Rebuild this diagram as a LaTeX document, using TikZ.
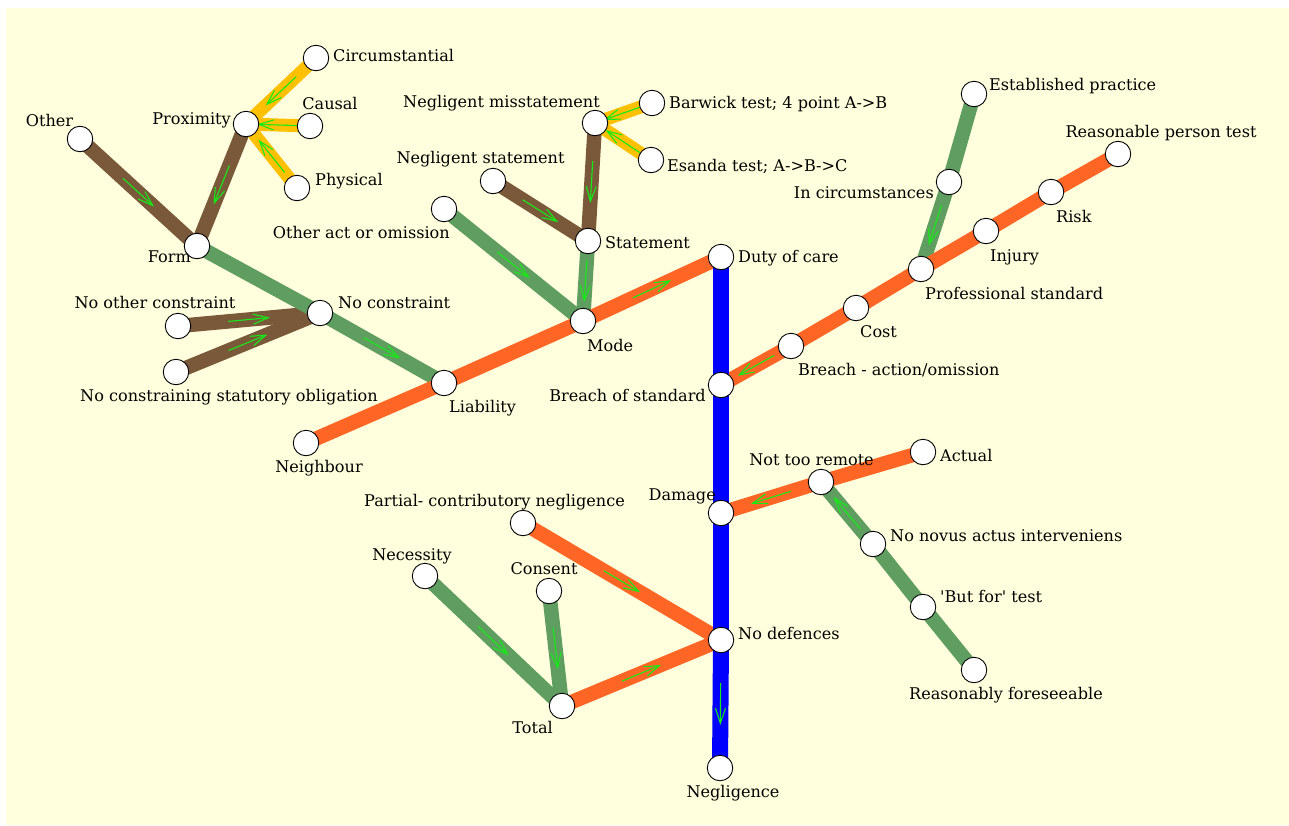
\documentclass[tikz,border=0pt]{standalone}
\usepackage{fontspec}
\setmainfont{DejaVu Serif}[Ligatures=TeXOff]
\usetikzlibrary{arrows.meta,decorations.markings}
\pgfdeclarelayer{bg}
\pgfdeclarelayer{edges}
\pgfsetlayers{bg,edges,main}
\definecolor{bgyellow}{RGB}{255,255,221}
\definecolor{cbrown}{RGB}{122,88,58}
\definecolor{cgold}{RGB}{255,192,0}
\definecolor{cgreen}{RGB}{95,158,96}
\definecolor{corange}{RGB}{255,102,38}
\definecolor{cblue}{RGB}{0,0,255}
\definecolor{carrow}{RGB}{20,235,20}
\tikzset{
  pt/.style={circle,draw=black,fill=white,line width=0.9pt,minimum size=25.5pt,inner sep=0pt},
  lab/.style={font=\fontsize{16.1}{19}\selectfont,inner sep=0pt,anchor=base},
  labw/.style={lab,anchor=base west},
  labe/.style={lab,anchor=base east},
  midarrow/.style={postaction={decorate,decoration={markings,
     mark=at position 0.5 with {\draw[carrow,line width=1.1pt,-{Straight Barb[length=15pt,width=10pt]}] (-21pt,0) -- (21pt,0);}}}},
  ebrown/.style={cbrown,line width=14.5pt},
  egold/.style={cgold,line width=13pt},
  egreen/.style={cgreen,line width=14.5pt},
  eorange/.style={corange,line width=14.5pt},
  eblue/.style={cblue,line width=16pt},
}
\begin{document}
\begin{tikzpicture}[x=1pt,y=-1pt]
\useasboundingbox (0,0) rectangle (1289,825);
\begin{pgfonlayer}{bg}
\fill[white] (0,0) rectangle (1289,825);
\fill[bgyellow] (6,8) rectangle (1289,825);
\end{pgfonlayer}
% nodes
\node[pt] (circ) at (316,58) {};
\node[pt] (prox) at (246,124) {};
\node[pt] (causal) at (310,126) {};
\node[pt] (phys) at (297,188) {};
\node[pt] (other) at (80,139) {};
\node[pt] (form) at (197,246) {};
\node[pt] (negmis) at (595,123) {};
\node[pt] (barw) at (652,103) {};
\node[pt] (esanda) at (651,160) {};
\node[pt] (negst) at (493,181) {};
\node[pt] (otheract) at (444,209) {};
\node[pt] (stmt) at (588,241) {};
\node[pt] (mode) at (583,321) {};
\node[pt] (duty) at (721,257) {};
\node[pt] (nocon) at (320,313) {};
\node[pt] (noc) at (178,326) {};
\node[pt] (ncso) at (176,372) {};
\node[pt] (liab) at (444,383) {};
\node[pt] (neigh) at (306,443) {};
\node[pt] (estab) at (974,94) {};
\node[pt] (rpt) at (1118,154) {};
\node[pt] (incirc) at (949,182) {};
\node[pt] (risk) at (1051,192) {};
\node[pt] (injury) at (986,231) {};
\node[pt] (prof) at (921,269) {};
\node[pt] (cost) at (856,308) {};
\node[pt] (bao) at (791,346) {};
\node[pt] (bos) at (721,385) {};
\node[pt] (actual) at (923,452) {};
\node[pt] (ntr) at (821,482) {};
\node[pt] (damage) at (721,513) {};
\node[pt] (nn) at (873,544) {};
\node[pt] (bf) at (923,607) {};
\node[pt] (rf) at (974,670) {};
\node[pt] (partial) at (523,523) {};
\node[pt] (necess) at (425,576) {};
\node[pt] (consent) at (549,591) {};
\node[pt] (total) at (562,706) {};
\node[pt] (nodef) at (721,640) {};
\node[pt] (negl) at (720,768) {};
% labels
\node[labw] (t-circ) at (333,61) {Circumstantial};
\node[labe] (t-prox) at (231,124) {Proximity};
\node[lab] (t-causal) at (330,109) {Causal};
\node[labw] (t-phys) at (315,185) {Physical};
\node[lab] (t-other) at (49.5,126) {Other};
\node[labe] (t-form) at (191,262) {Form};
\node[lab] (t-negmis) at (501.5,107) {Negligent misstatement};
\node[labw] (t-barw) at (669,108) {Barwick test; 4 point A->B};
\node[labw] (t-esanda) at (667,171) {Esanda test; A->B->C};
\node[lab] (t-negst) at (480.5,163) {Negligent statement};
\node[labe] (t-otheract) at (450,238) {Other act or omission};
\node[labw] (t-stmt) at (605,248) {Statement};
\node[labw] (t-mode) at (587,351) {Mode};
\node[labw] (t-duty) at (738,262) {Duty of care};
\node[labw] (t-nocon) at (338,308) {No constraint};
\node[lab] (t-noc) at (155,308) {No other constraint};
\node[lab] (t-ncso) at (229,401) {No constraining statutory obligation};
\node[labw] (t-liab) at (449,412) {Liability};
\node[lab] (t-neigh) at (319,472) {Neighbour};
\node[labw] (t-estab) at (989,90) {Established practice};
\node[lab] (t-rpt) at (1161,137) {Reasonable person test};
\node[labe] (t-incirc) at (934,198) {In circumstances};
\node[labw] (t-risk) at (1056,222) {Risk};
\node[labw] (t-injury) at (990,261) {Injury};
\node[labw] (t-prof) at (925,299) {Professional standard};
\node[labw] (t-cost) at (860,337) {Cost};
\node[labw] (t-bao) at (798,375) {Breach - action/omission};
\node[labe] (t-bos) at (706,401) {Breach of standard};
\node[labw] (t-actual) at (940,461) {Actual};
\node[lab] (t-ntr) at (811.5,465) {Not too remote};
\node[labe] (t-damage) at (716,500) {Damage};
\node[labw] (t-nn) at (890,541) {No novus actus interveniens};
\node[labw] (t-bf) at (940,602) {'But for' test};
\node[lab] (t-rf) at (1006,699) {Reasonably foreseeable};
\node[lab] (t-partial) at (494.5,506) {Partial- contributory negligence};
\node[lab] (t-necess) at (412,560) {Necessity};
\node[lab] (t-consent) at (544,574) {Consent};
\node[labe] (t-total) at (553,733) {Total};
\node[labw] (t-nodef) at (738,639) {No defences};
\node[lab] (t-negl) at (733,797) {Negligence};
% edges
\begin{pgfonlayer}{edges}
\draw[ebrown,midarrow] (other.center) -- (form.center);
\draw[ebrown,midarrow] (prox.center) -- (form.center);
\draw[ebrown,midarrow] (noc.center) -- (nocon.center);
\draw[ebrown,midarrow] (ncso.center) -- (nocon.center);
\draw[ebrown,midarrow] (negst.center) -- (stmt.center);
\draw[ebrown,midarrow] (negmis.center) -- (stmt.center);
\draw[egold,midarrow] (circ.center) -- (prox.center);
\draw[egold,midarrow] (causal.center) -- (prox.center);
\draw[egold,midarrow] (phys.center) -- (prox.center);
\draw[egold,midarrow] (barw.center) -- (negmis.center);
\draw[egold,midarrow] (esanda.center) -- (negmis.center);
\draw[egreen] (form.center) -- (nocon.center);
\draw[egreen,midarrow] (nocon.center) -- (liab.center);
\draw[egreen,midarrow] (otheract.center) -- (mode.center);
\draw[egreen,midarrow] (stmt.center) -- (mode.center);
\draw[egreen] (estab.center) -- (incirc.center);
\draw[egreen,midarrow] (incirc.center) -- (prof.center);
\draw[egreen] (rf.center) -- (bf.center);
\draw[egreen] (bf.center) -- (nn.center);
\draw[egreen,midarrow] (nn.center) -- (ntr.center);
\draw[egreen,midarrow] (necess.center) -- (total.center);
\draw[egreen,midarrow] (consent.center) -- (total.center);
\draw[eorange] (neigh.center) -- (liab.center);
\draw[eorange] (liab.center) -- (mode.center);
\draw[eorange,midarrow] (mode.center) -- (duty.center);
\draw[eorange] (rpt.center) -- (risk.center);
\draw[eorange] (risk.center) -- (injury.center);
\draw[eorange] (injury.center) -- (prof.center);
\draw[eorange] (prof.center) -- (cost.center);
\draw[eorange] (cost.center) -- (bao.center);
\draw[eorange,midarrow] (bao.center) -- (bos.center);
\draw[eorange] (actual.center) -- (ntr.center);
\draw[eorange,midarrow] (ntr.center) -- (damage.center);
\draw[eorange,midarrow] (partial.center) -- (nodef.center);
\draw[eorange,midarrow] (total.center) -- (nodef.center);
\draw[eblue] (duty.center) -- (bos.center);
\draw[eblue] (bos.center) -- (damage.center);
\draw[eblue] (damage.center) -- (nodef.center);
\draw[eblue,midarrow] (nodef.center) -- (negl.center);
\end{pgfonlayer}
\end{tikzpicture}
\end{document}
